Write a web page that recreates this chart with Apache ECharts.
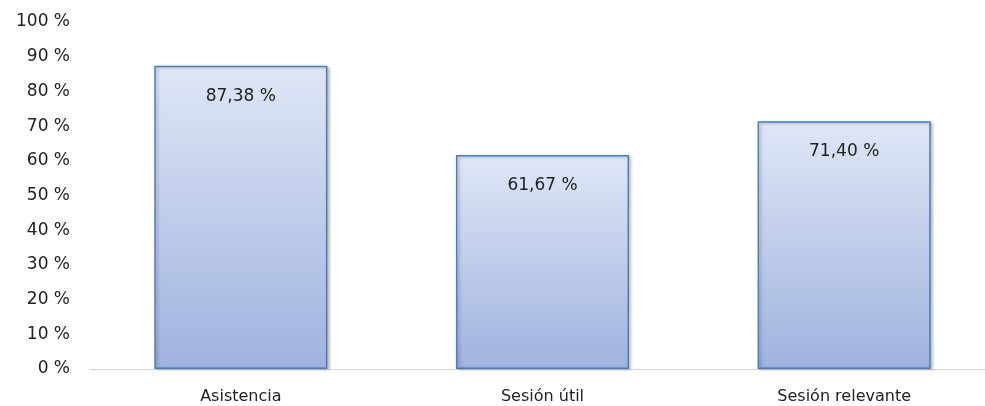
<!DOCTYPE html>
<html>
<head>
<meta charset="utf-8">
<script src="https://cdn.jsdelivr.net/npm/echarts@6/dist/echarts.min.js"></script>
<style>
  html, body { margin: 0; padding: 0; background: #fff; }
  #chart { width: 985px; height: 406px; }
</style>
</head>
<body>
<div id="chart"></div>
<script>
// datos
const categories = ['Asistencia', 'Sesión útil', 'Sesión relevante']
const values = [87.38, 61.67, 71.40]

const fontFamily = '"DejaVu Sans", sans-serif'

const chart = echarts.init(document.getElementById('chart'))

chart.setOption({
    animation: false,
    grid: {
        left: 90,
        right: -10,
        top: 22,
        bottom: 37,
        outerBoundsMode: 'none'
    },
    xAxis: {
        type: 'category',
        data: categories,
        axisTick: { show: false },
        axisLine: { lineStyle: { color: '#d4d4d4', width: 1 } },
        axisLabel: {
            color: '#222',
            fontSize: 16,
            fontFamily: fontFamily,
            margin: 20
        }
    },
    yAxis: {
        type: 'value',
        min: 0,
        max: 100,
        interval: 10,
        splitLine: { show: false },
        axisLine: { show: false },
        axisTick: { show: false },
        axisLabel: {
            formatter: '{value} %',
            color: '#222',
            fontSize: 17,
            fontFamily: fontFamily,
            margin: 20
        }
    },
    series: [
        {
            type: 'bar',
            data: values,
            barWidth: '57.4%',
            itemStyle: {
                color: new echarts.graphic.LinearGradient(0, 0, 0, 1, [
                    { offset: 0, color: '#dfe6f6' },
                    { offset: 1, color: '#9fb3df' }
                ]),
                borderColor: '#4a7ebb',
                borderWidth: 1.5,
                shadowColor: 'rgba(0,0,0,0.25)',
                shadowBlur: 3,
                shadowOffsetX: 2,
                shadowOffsetY: 1
            },
            label: {
                show: true,
                position: 'insideTop',
                distance: 22,
                color: '#222',
                fontSize: 17,
                fontFamily: fontFamily,
                formatter: (p) => p.value.toFixed(2).replace('.', ',') + ' %'
            }
        }
    ]
})
</script>
</body>
</html>
